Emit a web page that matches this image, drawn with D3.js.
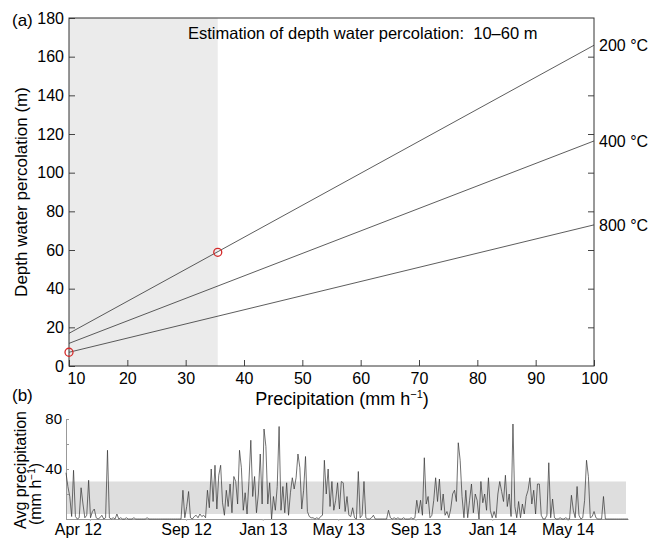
<!DOCTYPE html>
<html>
<head>
<meta charset="utf-8">
<script src="https://cdn.jsdelivr.net/npm/d3@7"></script>
<style>
body { margin: 0; background: #fff; }
svg { font-family: "Liberation Sans", Arial, sans-serif; }
</style>
</head>
<body>
<svg width="651" height="538"></svg>
<script>
//panel (a) data: depth lines for each temperature, read at both ends of the axis
const temps = ["200 °C", "400 °C", "800 °C"];
const precip_ends = [10, 100];
const depth_at_10 = [16.9, 11.7, 7.1];
const depth_at_100 = [165.9, 116.4, 73.0];

//red markers
const marker_precip = [35.5, 10];
const marker_depth = [58.8, 7.1];

//shaded precipitation range in (a)
const shade_a = [10, 35.5];

const ticks_x_a = [10, 20, 30, 40, 50, 60, 70, 80, 90, 100];
const ticks_y_a = [0, 20, 40, 60, 80, 100, 120, 140, 160, 180];

//panel (b) data: average precipitation, one value every 3 days from 23 Feb 2012
const series_start = new Date(2012, 1, 23);
const series_end = new Date(2014, 7, 5);
const step_days = 3;
const avg_precip = [
    37, 26, 18, 2, 39, 2, 0, 1, 25, 12, 1, 3, 31, 1, 6, 8, 1, 0, 1, 3,
    0, 1, 55, 1, 0, 1, 0, 4, 0, 1, 0, 0, 1, 0, 0, 0, 1, 0, 0, 0,
    0, 0, 0, 1, 0, 0, 0, 0, 0, 0, 0, 0, 0, 0, 0, 0, 0, 0, 0, 0,
    0, 0, 23, 1, 10, 22, 1, 0, 2, 3, 1, 4, 2, 3, 1, 23, 9, 40, 14, 43,
    8, 35, 43, 13, 3, 23, 10, 28, 5, 34, 30, 12, 55, 41, 7, 21, 4, 30, 63, 18,
    34, 5, 20, 52, 12, 72, 58, 12, 29, 0, 18, 7, 26, 74, 7, 26, 5, 29, 3, 21,
    33, 24, 33, 52, 41, 8, 23, 50, 6, 2, 1, 1, 0, 1, 0, 2, 3, 47, 20, 40,
    10, 30, 7, 15, 29, 8, 30, 29, 6, 18, 3, 2, 9, 1, 0, 38, 1, 3, 30, 1,
    0, 0, 1, 3, 0, 0, 0, 0, 0, 0, 0, 7, 1, 0, 1, 0, 1, 0, 0, 1,
    0, 0, 0, 1, 0, 1, 15, 5, 15, 3, 49, 12, 18, 1, 3, 15, 33, 14, 32, 7,
    20, 3, 6, 1, 8, 20, 23, 14, 61, 47, 18, 1, 23, 1, 15, 28, 5, 20, 15, 0,
    30, 13, 20, 7, 33, 7, 1, 6, 1, 20, 30, 22, 14, 35, 10, 20, 2, 76, 10, 1,
    14, 1, 12, 4, 18, 23, 33, 12, 23, 4, 28, 28, 3, 0, 0, 3, 45, 1, 16, 1,
    0, 0, 1, 0, 0, 1, 0, 0, 19, 7, 1, 26, 3, 0, 1, 15, 47, 34, 1, 2,
    6, 1, 0, 0, 0, 18, 0, 0, 0, 0, 0, 0, 0, 0, 0, 0, 0, 0, 0
];

//gray band in (b)
const band_b = [4, 30];

const ticks_y_b = [0, 20, 40, 60, 80];
const labels_y_b = ["", "", "40", "", "80"];
const ticks_date_b = [
    new Date(2012, 3, 1), new Date(2012, 8, 1), new Date(2013, 0, 1),
    new Date(2013, 4, 1), new Date(2013, 8, 1), new Date(2014, 0, 1),
    new Date(2014, 4, 1)
];
const labels_date_b = ["Apr 12", "Sep 12", "Jan 13", "May 13", "Sep 13", "Jan 14", "May 14"];

const svg = d3.select("svg");

//----- panel (a) -----
const a = { left: 69, right: 594, top: 18, bottom: 366 };

const x_a = d3.scaleLinear().domain([10, 100]).range([a.left, a.right]);
const y_a = d3.scaleLinear().domain([0, 180]).range([a.bottom, a.top]);

//shaded range
svg.append("rect")
    .attr("x", x_a(shade_a[0]))
    .attr("y", a.top)
    .attr("width", x_a(shade_a[1]) - x_a(shade_a[0]))
    .attr("height", a.bottom - a.top)
    .attr("fill", "#ebebeb");

//axes with inward ticks
const ax_left = svg.append("g")
    .attr("transform", `translate(${a.left}, 0)`)
    .call(d3.axisLeft(y_a).tickValues(ticks_y_a).tickSizeInner(-6).tickSizeOuter(0).tickPadding(5));
ax_left.selectAll("text").style("font-size", "16px").attr("fill", "#000");

const ax_bottom = svg.append("g")
    .attr("transform", `translate(0, ${a.bottom})`)
    .call(d3.axisBottom(x_a).tickValues(ticks_x_a).tickSizeInner(-6).tickSizeOuter(0).tickPadding(7));
ax_bottom.selectAll("text").style("font-size", "16px").attr("fill", "#000")
    .attr("dx", d => d === 10 ? 7 : 0);

svg.append("g")
    .attr("transform", `translate(${a.right}, 0)`)
    .call(d3.axisRight(y_a).tickValues(ticks_y_a.slice(1, -1)).tickSizeInner(-6).tickSizeOuter(0).tickFormat(""));

svg.selectAll(".domain").remove();
svg.selectAll(".tick line").attr("stroke", "#444");

//frame
svg.append("rect")
    .attr("x", a.left)
    .attr("y", a.top)
    .attr("width", a.right - a.left)
    .attr("height", a.bottom - a.top)
    .attr("fill", "none")
    .attr("stroke", "#333")
    .attr("stroke-width", 1);

//temperature lines
const line_a = d3.line().x(d => x_a(d[0])).y(d => y_a(d[1]));
temps.forEach((t, i) => {
    svg.append("path")
        .attr("d", line_a([[precip_ends[0], depth_at_10[i]], [precip_ends[1], depth_at_100[i]]]))
        .attr("fill", "none")
        .attr("stroke", "#333")
        .attr("stroke-width", 0.8);

    svg.append("text")
        .attr("x", a.right + 5)
        .attr("y", y_a(depth_at_100[i]) + 6)
        .attr("font-size", "16px")
        .attr("fill", "#000")
        .text(t);
});

//red markers
marker_precip.forEach((p, i) => {
    svg.append("circle")
        .attr("cx", x_a(p))
        .attr("cy", y_a(marker_depth[i]))
        .attr("r", 4)
        .attr("fill", "none")
        .attr("stroke", "#d42a2a")
        .attr("stroke-width", 1.3);
});

//texts
svg.append("text")
    .attr("x", 188)
    .attr("y", 39)
    .attr("font-size", "16.5px")
    .attr("fill", "#000")
    .attr("xml:space", "preserve")
    .text("Estimation of depth water percolation:  10–60 m");

svg.append("text")
    .attr("x", 12)
    .attr("y", 26)
    .attr("font-size", "17px")
    .text("(a)");

svg.append("text")
    .attr("transform", "rotate(-90)")
    .attr("x", -192)
    .attr("y", 27)
    .attr("text-anchor", "middle")
    .attr("font-size", "17px")
    .text("Depth water percolation (m)");

const xlab = svg.append("text")
    .attr("x", 342)
    .attr("y", 405)
    .attr("text-anchor", "middle")
    .attr("font-size", "18px")
    .text("Precipitation (mm h");
xlab.append("tspan").attr("font-size", "11px").attr("dy", -7).text("−1");
xlab.append("tspan").attr("dy", 7).text(")");

//----- panel (b) -----
const b = { left: 66, right: 628, top: 419, bottom: 519 };

const x_b = d3.scaleTime().domain([series_start, series_end]).range([b.left, b.right]);
const y_b = d3.scaleLinear().domain([0, 80]).range([b.bottom, b.top]);

svg.append("rect")
    .attr("x", b.left)
    .attr("y", y_b(band_b[1]))
    .attr("width", 626 - b.left)
    .attr("height", y_b(band_b[0]) - y_b(band_b[1]))
    .attr("fill", "#dedede");

const ax_left_b = svg.append("g")
    .attr("transform", `translate(${b.left}, 0)`)
    .call(d3.axisLeft(y_b).tickValues(ticks_y_b).tickSizeInner(-3).tickSizeOuter(0).tickPadding(4)
        .tickFormat((d, i) => labels_y_b[i]));
ax_left_b.select(".domain").attr("stroke", "#999");
ax_left_b.selectAll(".tick line").attr("stroke", "#999");
ax_left_b.selectAll("text").style("font-size", "15px").attr("fill", "#000");

const ax_bottom_b = svg.append("g")
    .attr("transform", `translate(0, ${b.bottom})`)
    .call(d3.axisBottom(x_b).tickValues(ticks_date_b).tickSizeInner(2).tickSizeOuter(0).tickPadding(3)
        .tickFormat((d, i) => labels_date_b[i]));
ax_bottom_b.select(".domain").attr("stroke", "#999");
ax_bottom_b.selectAll(".tick line").attr("stroke", "#bbb");
ax_bottom_b.selectAll("text").style("font-size", "16px").attr("fill", "#000")
    .attr("dx", (d, i) => i === 0 ? -12 : 0);

//precipitation series
const line_b = d3.line()
    .x((d, i) => x_b(d3.timeDay.offset(series_start, i * step_days)))
    .y(d => y_b(d));

svg.append("path")
    .datum(avg_precip)
    .attr("d", line_b)
    .attr("fill", "none")
    .attr("stroke", "#333")
    .attr("stroke-width", 0.7);

svg.append("text")
    .attr("x", 12)
    .attr("y", 401)
    .attr("font-size", "17px")
    .text("(b)");

svg.append("text")
    .attr("transform", "rotate(-90)")
    .attr("x", -470)
    .attr("y", 26)
    .attr("text-anchor", "middle")
    .attr("font-size", "16px")
    .text("Avg precipitation");

const ylab_b = svg.append("text")
    .attr("transform", "rotate(-90)")
    .attr("x", -494)
    .attr("y", 41)
    .attr("text-anchor", "middle")
    .attr("font-size", "16px")
    .text("(mm h");
ylab_b.append("tspan").attr("font-size", "10px").attr("dy", -6).text("−1");
ylab_b.append("tspan").attr("dy", 6).text(")");
</script>
</body>
</html>
